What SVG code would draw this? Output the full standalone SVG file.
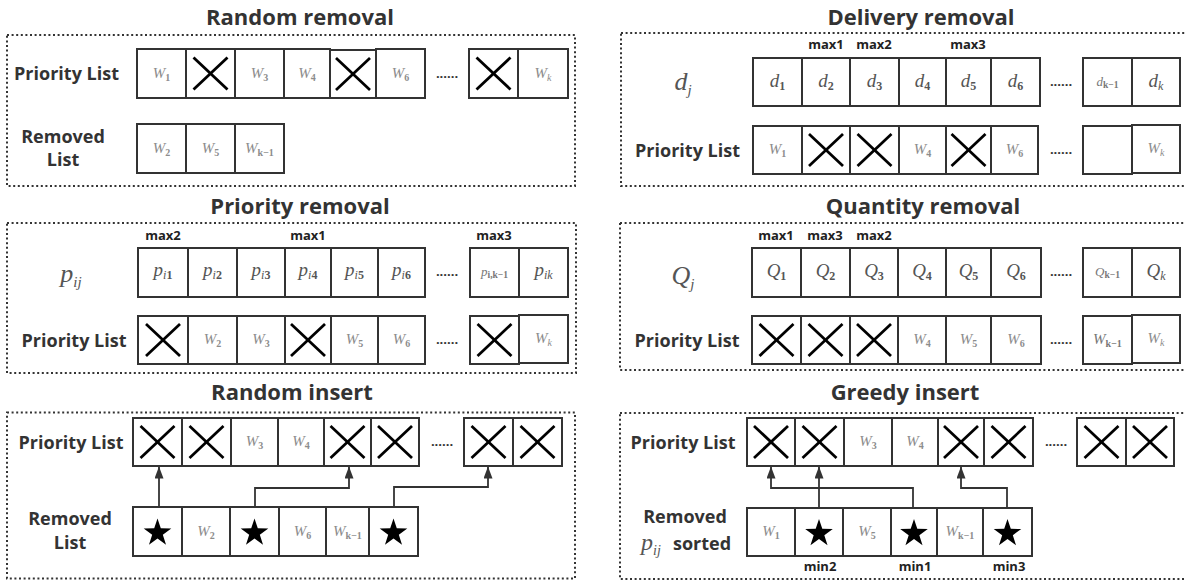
<svg xmlns="http://www.w3.org/2000/svg" xmlns:xlink="http://www.w3.org/1999/xlink" width="1185" height="581" viewBox="0 0 1185 581">
<style>
.t{font-family:"Open Sans","Noto Sans",sans-serif;font-weight:700;font-size:22px;fill:#333;text-anchor:middle}
.l{font-family:"Open Sans","Noto Sans",sans-serif;font-weight:700;font-size:18px;fill:#333;text-anchor:middle}
.m{font-family:"Open Sans","Noto Sans",sans-serif;font-weight:700;font-size:13px;fill:#222;text-anchor:middle}
.box{fill:none;stroke:#333;stroke-width:2;stroke-dasharray:2 2.6}
.c{fill:#fff;stroke:#333;stroke-width:2}
.x line{stroke:#000;stroke-width:2.8}
.w{font-family:"Liberation Serif","Times New Roman",serif;font-style:italic;font-size:15px;fill:#8c8c8c;text-anchor:middle}
.v{font-family:"Liberation Serif","Times New Roman",serif;font-style:italic;font-size:19px;fill:#555;text-anchor:middle}
.big{font-family:"Liberation Serif","Times New Roman",serif;font-style:italic;font-size:26px;fill:#555;text-anchor:middle}
.s{font-style:normal;font-size:10px;font-weight:700}
.s2{font-style:normal;font-size:12px;font-weight:700}
.si{font-size:15px}
.d{font-family:"Open Sans",sans-serif;font-weight:700;font-size:13px;fill:#333;text-anchor:middle}
.arr{fill:none;stroke:#333;stroke-width:1.8;marker-end:url(#ah)}
</style>
<defs>
<marker id="ah" viewBox="0 0 12 9" refX="12" refY="4.5" markerWidth="12" markerHeight="9" markerUnits="userSpaceOnUse" orient="auto"><path d="M0,0 L12,4.5 L0,9 z" fill="#333"/></marker>
<g id="x" class="x"><line x1="-17" y1="-16" x2="17" y2="16"/><line x1="17" y1="-16" x2="-17" y2="16"/></g>
<polygon id="star" points="0,-13.1 3.29,-3.13 13.79,-3.08 5.33,3.13 8.52,13.13 0,7 -8.52,13.13 -5.33,3.13 -13.79,-3.08 -3.29,-3.13" fill="#000"/>
</defs>

<!-- Panel 1: Random removal -->
<g id="panel-random-removal">
<text class="t" x="300" y="25">Random removal</text>
<rect class="box" x="7" y="35" width="568" height="151"/>
<text class="l" x="66.5" y="80">Priority List</text>
<text class="l" x="63" y="143">Removed</text>
<text class="l" x="63" y="166">List</text>
<rect class="c" x="137" y="49" width="49" height="49"/>
<rect class="c" x="186" y="49" width="49" height="49"/>
<rect class="c" x="235" y="49" width="49" height="49"/>
<rect class="c" x="284" y="49" width="46" height="49"/>
<rect class="c" x="330" y="50" width="46" height="48"/>
<rect class="c" x="376" y="49" width="49" height="49"/>
<rect class="c" x="469" y="49" width="49" height="49"/>
<rect class="c" x="518" y="49" width="50" height="49"/>
<text class="w" x="161.5" y="78">W<tspan class="s" dy="3">1</tspan></text>
<use xlink:href="#x" x="210.5" y="73.5"/>
<text class="w" x="259.5" y="78">W<tspan class="s" dy="3">3</tspan></text>
<text class="w" x="307" y="78">W<tspan class="s" dy="3">4</tspan></text>
<use xlink:href="#x" x="353" y="74"/>
<text class="w" x="400.5" y="78">W<tspan class="s" dy="3">6</tspan></text>
<text class="d" x="447" y="78">......</text>
<use xlink:href="#x" x="493.5" y="73.5"/>
<text class="w" x="543" y="78">W<tspan class="s" dy="3" style="font-style:italic;font-weight:400">k</tspan></text>
<rect class="c" x="137" y="124" width="49" height="49"/>
<rect class="c" x="186" y="124" width="49" height="49"/>
<rect class="c" x="235" y="124" width="49" height="49"/>
<text class="w" x="161.5" y="153">W<tspan class="s" dy="3">2</tspan></text>
<text class="w" x="210.5" y="153">W<tspan class="s" dy="3">5</tspan></text>
<text class="w" x="259.5" y="153">W<tspan class="s" dy="3">k−1</tspan></text>
</g>

<!-- Panel 2: Delivery removal -->
<g id="panel-delivery-removal">
<text class="t" x="921" y="25">Delivery removal</text>
<rect class="box" x="621" y="33" width="566" height="153"/>
<text class="big" x="683" y="90">d<tspan class="si" dy="5">j</tspan></text>
<text class="m" x="826" y="49">max1</text>
<text class="m" x="874" y="49">max2</text>
<text class="m" x="968" y="49">max3</text>
<rect class="c" x="753" y="58" width="49" height="48"/>
<rect class="c" x="802" y="58" width="48" height="48"/>
<rect class="c" x="850" y="58" width="49" height="48"/>
<rect class="c" x="899" y="58" width="47" height="48"/>
<rect class="c" x="946" y="58" width="45" height="48"/>
<rect class="c" x="991" y="58" width="49" height="48"/>
<rect class="c" x="1083" y="58" width="49" height="48"/>
<rect class="c" x="1132" y="58" width="48" height="48"/>
<text class="v" x="777.5" y="87">d<tspan class="s2" dy="3">1</tspan></text>
<text class="v" x="826" y="87">d<tspan class="s2" dy="3">2</tspan></text>
<text class="v" x="874.5" y="87">d<tspan class="s2" dy="3">3</tspan></text>
<text class="v" x="922.5" y="87">d<tspan class="s2" dy="3">4</tspan></text>
<text class="v" x="968.5" y="87">d<tspan class="s2" dy="3">5</tspan></text>
<text class="v" x="1015.5" y="87">d<tspan class="s2" dy="3">6</tspan></text>
<text class="d" x="1061" y="86">......</text>
<text class="w" x="1107.5" y="86" style="fill:#777;font-size:13px">d<tspan class="s" dy="2" style="font-size:9.5px">k−1</tspan></text>
<text class="v" x="1156" y="87">d<tspan class="s2" dy="3" style="font-style:italic;font-weight:400">k</tspan></text>
<text class="l" x="687.5" y="157">Priority List</text>
<rect class="c" x="753" y="126" width="49" height="48"/>
<rect class="c" x="802" y="126" width="48" height="48"/>
<rect class="c" x="850" y="126" width="49" height="48"/>
<rect class="c" x="899" y="126" width="47" height="48"/>
<rect class="c" x="946" y="126" width="45" height="48"/>
<rect class="c" x="991" y="126" width="47" height="48"/>
<rect class="c" x="1083" y="126" width="49" height="48"/>
<rect class="c" x="1132" y="125" width="48" height="48"/>
<text class="w" x="777.5" y="154">W<tspan class="s" dy="3">1</tspan></text>
<use xlink:href="#x" x="826" y="150"/>
<use xlink:href="#x" x="874.5" y="150"/>
<text class="w" x="922.5" y="154">W<tspan class="s" dy="3">4</tspan></text>
<use xlink:href="#x" x="968.5" y="150"/>
<text class="w" x="1014.5" y="154">W<tspan class="s" dy="3">6</tspan></text>
<text class="d" x="1061" y="154">......</text>
<text class="w" x="1156" y="153">W<tspan class="s" dy="3" style="font-style:italic;font-weight:400">k</tspan></text>
</g>

<!-- Panel 3: Priority removal -->
<g id="panel-priority-removal">
<text class="t" x="300" y="214">Priority removal</text>
<rect class="box" x="7" y="223" width="569" height="150"/>
<text class="big" x="71" y="282">p<tspan class="si" dy="5">ij</tspan></text>
<text class="m" x="163" y="240">max2</text>
<text class="m" x="308" y="240">max1</text>
<text class="m" x="494" y="240">max3</text>
<rect class="c" x="138" y="248" width="50" height="49"/>
<rect class="c" x="188" y="248" width="49" height="49"/>
<rect class="c" x="237" y="248" width="48" height="49"/>
<rect class="c" x="285" y="248" width="46" height="49"/>
<rect class="c" x="331" y="248" width="47" height="49"/>
<rect class="c" x="378" y="248" width="47" height="49"/>
<rect class="c" x="470" y="248" width="49" height="49"/>
<rect class="c" x="519" y="248" width="49" height="49"/>
<text class="v" x="163" y="276">p<tspan class="s2" dy="3"><tspan style="font-style:italic;font-weight:400">i</tspan>1</tspan></text>
<text class="v" x="212.5" y="276">p<tspan class="s2" dy="3"><tspan style="font-style:italic;font-weight:400">i</tspan>2</tspan></text>
<text class="v" x="261" y="276">p<tspan class="s2" dy="3"><tspan style="font-style:italic;font-weight:400">i</tspan>3</tspan></text>
<text class="v" x="308" y="276">p<tspan class="s2" dy="3"><tspan style="font-style:italic;font-weight:400">i</tspan>4</tspan></text>
<text class="v" x="354.5" y="276">p<tspan class="s2" dy="3"><tspan style="font-style:italic;font-weight:400">i</tspan>5</tspan></text>
<text class="v" x="401.5" y="276">p<tspan class="s2" dy="3"><tspan style="font-style:italic;font-weight:400">i</tspan>6</tspan></text>
<text class="d" x="447" y="276">......</text>
<text class="w" x="494.5" y="276" style="fill:#777;font-size:13px">p<tspan class="s" dy="2" style="font-size:9.5px">i,k−1</tspan></text>
<text class="v" x="543.5" y="276">p<tspan class="s2" dy="3" style="font-style:italic;font-weight:400">ik</tspan></text>
<text class="l" x="74" y="347">Priority List</text>
<rect class="c" x="138" y="316" width="50" height="48"/>
<rect class="c" x="188" y="316" width="49" height="48"/>
<rect class="c" x="237" y="316" width="48" height="48"/>
<rect class="c" x="285" y="316" width="46" height="48"/>
<rect class="c" x="331" y="316" width="47" height="48"/>
<rect class="c" x="378" y="316" width="47" height="48"/>
<rect class="c" x="470" y="316" width="49" height="48"/>
<rect class="c" x="519" y="315" width="49" height="48"/>
<use xlink:href="#x" x="163" y="340"/>
<text class="w" x="212.5" y="344">W<tspan class="s" dy="3">2</tspan></text>
<text class="w" x="261" y="344">W<tspan class="s" dy="3">3</tspan></text>
<use xlink:href="#x" x="308" y="340"/>
<text class="w" x="354.5" y="344">W<tspan class="s" dy="3">5</tspan></text>
<text class="w" x="401.5" y="344">W<tspan class="s" dy="3">6</tspan></text>
<text class="d" x="447" y="344">......</text>
<use xlink:href="#x" x="494.5" y="340"/>
<text class="w" x="543.5" y="343">W<tspan class="s" dy="3" style="font-style:italic;font-weight:400">k</tspan></text>
</g>

<!-- Panel 4: Quantity removal -->
<g id="panel-quantity-removal">
<text class="t" x="923" y="214">Quantity removal</text>
<rect class="box" x="620" y="223" width="567" height="147"/>
<text class="big" x="683" y="284">Q<tspan class="si" dy="5">j</tspan></text>
<text class="m" x="776" y="240">max1</text>
<text class="m" x="825" y="240">max3</text>
<text class="m" x="874" y="240">max2</text>
<rect class="c" x="752" y="248" width="49" height="49"/>
<rect class="c" x="801" y="248" width="49" height="49"/>
<rect class="c" x="850" y="248" width="48" height="49"/>
<rect class="c" x="898" y="248" width="48" height="49"/>
<rect class="c" x="946" y="248" width="45" height="49"/>
<rect class="c" x="991" y="248" width="50" height="49"/>
<rect class="c" x="1083" y="248" width="49" height="49"/>
<rect class="c" x="1132" y="248" width="48" height="49"/>
<text class="v" x="776.5" y="277">Q<tspan class="s2" dy="3">1</tspan></text>
<text class="v" x="825.5" y="277">Q<tspan class="s2" dy="3">2</tspan></text>
<text class="v" x="874" y="277">Q<tspan class="s2" dy="3">3</tspan></text>
<text class="v" x="922" y="277">Q<tspan class="s2" dy="3">4</tspan></text>
<text class="v" x="968.5" y="277">Q<tspan class="s2" dy="3">5</tspan></text>
<text class="v" x="1016" y="277">Q<tspan class="s2" dy="3">6</tspan></text>
<text class="d" x="1061" y="276">......</text>
<text class="w" x="1107.5" y="276" style="fill:#777;font-size:13px">Q<tspan class="s" dy="2" style="font-size:9.5px">k−1</tspan></text>
<text class="v" x="1156" y="277">Q<tspan class="s2" dy="3" style="font-style:italic;font-weight:400">k</tspan></text>
<text class="l" x="687" y="347">Priority List</text>
<rect class="c" x="752" y="316" width="49" height="48"/>
<rect class="c" x="801" y="316" width="49" height="48"/>
<rect class="c" x="850" y="316" width="48" height="48"/>
<rect class="c" x="898" y="316" width="48" height="48"/>
<rect class="c" x="946" y="316" width="45" height="48"/>
<rect class="c" x="991" y="316" width="50" height="48"/>
<rect class="c" x="1083" y="316" width="49" height="48"/>
<rect class="c" x="1132" y="315" width="48" height="48"/>
<use xlink:href="#x" x="776.5" y="340"/>
<use xlink:href="#x" x="825.5" y="340"/>
<use xlink:href="#x" x="874" y="340"/>
<text class="w" x="922" y="344">W<tspan class="s" dy="3">4</tspan></text>
<text class="w" x="968.5" y="344">W<tspan class="s" dy="3">5</tspan></text>
<text class="w" x="1016" y="344">W<tspan class="s" dy="3">6</tspan></text>
<text class="d" x="1061" y="344">......</text>
<text class="w" x="1107.5" y="344" style="fill:#777">W<tspan class="s" dy="3">k−1</tspan></text>
<text class="w" x="1156" y="343">W<tspan class="s" dy="3" style="font-style:italic;font-weight:400">k</tspan></text>
</g>

<!-- Panel 5: Random insert -->
<g id="panel-random-insert">
<text class="t" x="292" y="400">Random insert</text>
<rect class="box" x="7" y="412.5" width="568" height="166"/>
<text class="l" x="71" y="449">Priority List</text>
<text class="l" x="70" y="525">Removed</text>
<text class="l" x="70" y="549">List</text>
<rect class="c" x="133" y="418" width="49" height="48"/>
<rect class="c" x="182" y="418" width="49" height="48"/>
<rect class="c" x="231" y="418" width="47" height="48"/>
<rect class="c" x="278" y="418" width="46" height="48"/>
<rect class="c" x="324" y="418" width="47" height="48"/>
<rect class="c" x="371" y="418" width="48" height="48"/>
<rect class="c" x="464" y="418" width="49" height="48"/>
<rect class="c" x="513" y="418" width="49" height="48"/>
<use xlink:href="#x" x="157.5" y="442"/>
<use xlink:href="#x" x="206.5" y="442"/>
<text class="w" x="254.5" y="446">W<tspan class="s" dy="3">3</tspan></text>
<text class="w" x="301" y="446">W<tspan class="s" dy="3">4</tspan></text>
<use xlink:href="#x" x="347.5" y="442"/>
<use xlink:href="#x" x="395" y="442"/>
<text class="d" x="442" y="446">......</text>
<use xlink:href="#x" x="488.5" y="442"/>
<use xlink:href="#x" x="537.5" y="442"/>
<rect class="c" x="133" y="507" width="49" height="49"/>
<rect class="c" x="182" y="507" width="48" height="49"/>
<rect class="c" x="230" y="507" width="49" height="49"/>
<rect class="c" x="279" y="507" width="47" height="49"/>
<rect class="c" x="326" y="507" width="43" height="49"/>
<rect class="c" x="369" y="507" width="49" height="49"/>
<use xlink:href="#star" x="157.5" y="531.5"/>
<text class="w" x="206" y="536">W<tspan class="s" dy="3">2</tspan></text>
<use xlink:href="#star" x="254.5" y="531.5"/>
<text class="w" x="302.5" y="536">W<tspan class="s" dy="3">6</tspan></text>
<text class="w" x="347.5" y="536">W<tspan class="s" dy="3">k−1</tspan></text>
<use xlink:href="#star" x="393.5" y="531.5"/>
</g>

<!-- Panel 6: Greedy insert -->
<g id="panel-greedy-insert">
<text class="t" x="905" y="400">Greedy insert</text>
<rect class="box" x="620" y="413" width="567" height="166"/>
<text class="l" x="683" y="449">Priority List</text>
<text class="l" x="685" y="523">Removed</text>
<text class="big" x="651" y="550" style="font-size:24px">p<tspan class="si" dy="5" style="font-size:14px">ij</tspan></text>
<text class="l" x="673" y="550" style="text-anchor:start">sorted</text>
<rect class="c" x="747" y="418" width="48" height="48"/>
<rect class="c" x="795" y="418" width="49" height="48"/>
<rect class="c" x="844" y="418" width="48" height="48"/>
<rect class="c" x="892" y="418" width="46" height="48"/>
<rect class="c" x="938" y="418" width="46" height="48"/>
<rect class="c" x="984" y="418" width="49" height="48"/>
<rect class="c" x="1077" y="418" width="49" height="48"/>
<rect class="c" x="1126" y="418" width="48" height="48"/>
<use xlink:href="#x" x="771" y="442"/>
<use xlink:href="#x" x="819.5" y="442"/>
<text class="w" x="868" y="446">W<tspan class="s" dy="3">3</tspan></text>
<text class="w" x="915" y="446">W<tspan class="s" dy="3">4</tspan></text>
<use xlink:href="#x" x="961" y="442"/>
<use xlink:href="#x" x="1008.5" y="442"/>
<text class="d" x="1056" y="446">......</text>
<use xlink:href="#x" x="1101.5" y="442"/>
<use xlink:href="#x" x="1150" y="442"/>
<rect class="c" x="747" y="508" width="48" height="48"/>
<rect class="c" x="795" y="508" width="48" height="48"/>
<rect class="c" x="843" y="508" width="48" height="48"/>
<rect class="c" x="891" y="508" width="46" height="48"/>
<rect class="c" x="937" y="508" width="46" height="48"/>
<rect class="c" x="983" y="508" width="49" height="48"/>
<text class="w" x="771" y="536">W<tspan class="s" dy="3">1</tspan></text>
<use xlink:href="#star" x="819" y="532"/>
<text class="w" x="867" y="536">W<tspan class="s" dy="3">5</tspan></text>
<use xlink:href="#star" x="914" y="532"/>
<text class="w" x="960" y="536">W<tspan class="s" dy="3">k−1</tspan></text>
<use xlink:href="#star" x="1007.5" y="532"/>
<text class="m" x="820" y="571">min2</text>
<text class="m" x="915" y="571">min1</text>
<text class="m" x="1009" y="571">min3</text>
</g>

<!-- Connectors -->
<g id="connectors">
<path class="arr" d="M159,507 V466.5"/>
<path class="arr" d="M255,507 V488 H349 V466.5"/>
<path class="arr" d="M394,507 V487 H488 V466.5"/>
<path class="arr" d="M913,508 V488 H771 V466.5"/>
<path class="arr" d="M819,508 V466.5"/>
<path class="arr" d="M1007,508 V488 H961 V466.5"/>
</g>
</svg>
